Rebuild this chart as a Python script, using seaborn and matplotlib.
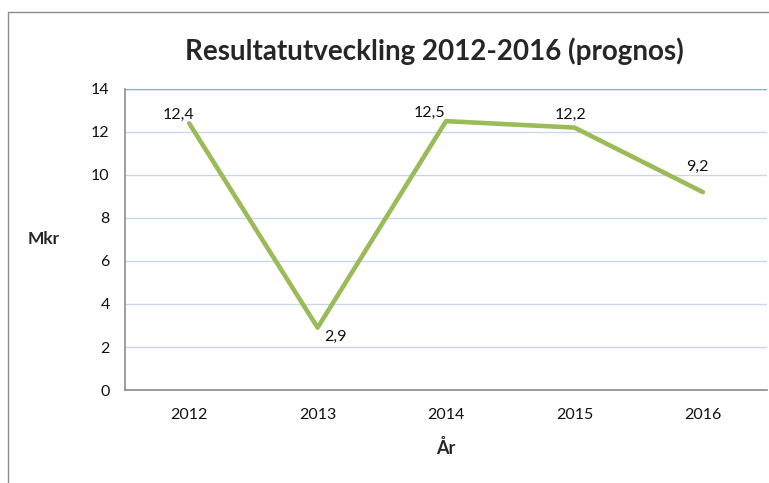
import matplotlib.pyplot as plt
import seaborn as sns
import pandas as pd
from matplotlib.lines import Line2D

years = ["2012", "2013", "2014", "2015", "2016"]
result = [12.4, 2.9, 12.5, 12.2, 9.2]
labels = ["12,4", "2,9", "12,5", "12,2", "9,2"]

df = pd.DataFrame({"År": years, "Mkr": result})

sns.set_style("white")
plt.rcParams["font.family"] = ["Lato", "DejaVu Sans"]

fig = plt.figure(figsize=(7.69, 4.83), dpi=100)
ax = fig.add_axes([0.1625, 0.1925, 0.835, 0.6235])

sns.lineplot(data=df, x="År", y="Mkr", sort=False, color="#9bbb59", linewidth=3.3, ax=ax)

ax.set_ylim(0, 14)
ax.set_yticks(range(0, 15, 2))
ax.set_xlim(-0.5, len(years) - 0.5)
ax.grid(axis="y", color="#c9d7ee", linewidth=1)
ax.axhline(14, color="#8eabd8", linewidth=1)
for s in ["top", "right"]:
    ax.spines[s].set_visible(False)
for s in ["left", "bottom"]:
    ax.spines[s].set_color("#8c8c8c")
    ax.spines[s].set_linewidth(1.2)
ax.tick_params(axis="both", length=0, labelsize=11.5, colors="#111111", pad=11)
ax.tick_params(axis="x", pad=13)

offsets = [(-8, 6), (13, -7), (-12, 6), (-3, 9), (-4, 18)]
for i, (v, t) in enumerate(zip(result, labels)):
    ax.annotate(t, (i, v), xytext=offsets[i], textcoords="offset points",
                ha="center", va="center", fontsize=11.5, color="#111111")

ax.set_xlabel("År", fontsize=13, fontweight="bold", labelpad=12)
ax.set_ylabel("Mkr", fontsize=12.5, fontweight="bold", rotation=0, labelpad=34, va="center")

fig.text(434 / 769, 1 - 51 / 483, "Resultatutveckling 2012-2016 (prognos)",
         ha="center", va="center", fontsize=20, fontweight="bold")

# chart border from the screenshot
fig.add_artist(Line2D([8 / 769, 8 / 769], [0, 1 - 12 / 483], color="#8c8c8c", linewidth=1, transform=fig.transFigure))
fig.add_artist(Line2D([8 / 769, 1], [1 - 12 / 483, 1 - 12 / 483], color="#8c8c8c", linewidth=1, transform=fig.transFigure))

fig.savefig("out.png", dpi=100)
